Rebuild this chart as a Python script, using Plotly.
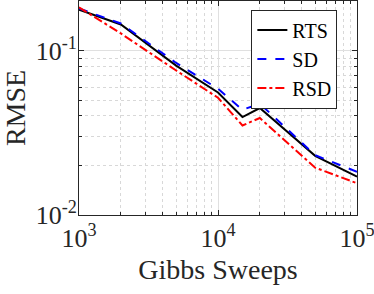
import plotly.graph_objects as go

sweeps = [1000, 2000, 5000, 10000, 15000, 20000, 50000, 100000]
rmse_rts = [0.177, 0.144, 0.081, 0.0556, 0.0394, 0.0447, 0.0229, 0.0171]
rmse_sd = [0.180, 0.146, 0.084, 0.0586, 0.0436, 0.0475, 0.0231, 0.0183]
rmse_rsd = [0.183, 0.127, 0.0756, 0.0516, 0.0350, 0.0389, 0.0194, 0.0156]

x_tickvals = [1e3, 1e4, 1e5]
x_ticktext = ["10<sup>3</sup>", "10<sup>4</sup>", "10<sup>5</sup>"]
y_tickvals = [0.01, 0.1]
y_ticktext = ["10<sup>-2</sup>", "10<sup>-1</sup>"]

SERIF = "Liberation Serif, Times New Roman, serif"

fig = go.Figure()
fig.add_trace(go.Scatter(x=sweeps, y=rmse_rts, mode="lines", name="RTS",
                         line=dict(color="black", width=2)))
fig.add_trace(go.Scatter(x=sweeps, y=rmse_sd, mode="lines", name="SD",
                         line=dict(color="#0000ff", width=2, dash="dash")))
fig.add_trace(go.Scatter(x=sweeps, y=rmse_rsd, mode="lines", name="RSD",
                         line=dict(color="#ff0000", width=2, dash="dashdot")))

axis_common = dict(
    type="log", showline=True, linecolor="#262626", linewidth=1, mirror="ticks",
    ticks="inside", ticklen=5, tickcolor="#262626", automargin=False,
    showgrid=True, gridcolor="#e0e0e0", gridwidth=1,
    zeroline=False, ticklabeloverflow="allow",
    tickfont=dict(family=SERIF, size=26, color="#262626"),
    minor=dict(ticks="inside", ticklen=3, tickcolor="#262626", dtick="D1",
               showgrid=True, gridcolor="#d8d8d8", griddash="dot", gridwidth=1),
)

fig.update_layout(
    width=374, height=294,
    margin=dict(l=79, r=17, t=1, b=79),
    paper_bgcolor="white", plot_bgcolor="white",
    font=dict(family=SERIF),
    xaxis=dict(axis_common, range=[2.99995, 5.00005],
               tickmode="array", tickvals=x_tickvals, ticktext=x_ticktext,
               title=dict(text="Gibbs Sweeps", standoff=7,
                          font=dict(family=SERIF, size=28, color="#262626"))),
    yaxis=dict(axis_common, range=[-2.00005, -0.699],
               tickmode="array", tickvals=y_tickvals, ticktext=y_ticktext,
               ticklabelstandoff=-4,
               title=dict(text="RMSE", standoff=2,
                          font=dict(family=SERIF, size=28, color="#262626"))),
    legend=dict(x=0.62, y=0.96, xanchor="left", yanchor="top",
                bgcolor="white", bordercolor="#262626", borderwidth=1,
                font=dict(family=SERIF, size=20, color="black"),
                tracegroupgap=0, itemwidth=30),
    showlegend=True,
)

fig.write_html("out.html", config={"displayModeBar": False},
               post_script="document.body.style.margin='0';document.body.style.overflow='hidden';")
